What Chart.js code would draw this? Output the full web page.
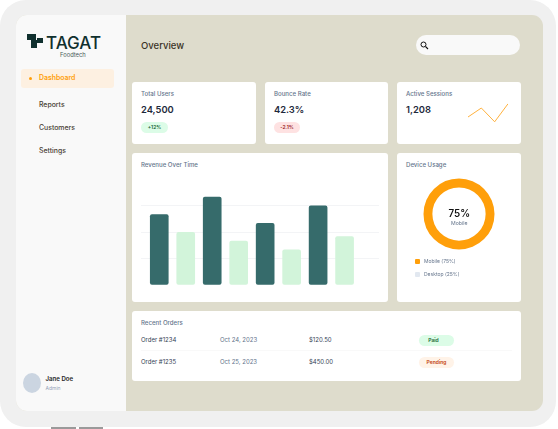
<!DOCTYPE html>
<html lang="en">
<head>
<meta charset="UTF-8">
<title>Overview</title>
<script src="https://cdn.jsdelivr.net/npm/chart.js"></script>
<style>
    html, body { margin: 0; padding: 0; background: #fff; }
    body { width: 558px; height: 429px; position: relative; overflow: hidden; font-family: Inter, sans-serif; color: #1e293b; }
    #page { position: absolute; left: 0; top: 0; width: 558px; height: 429px; filter: blur(0.3px); }
    .abs, .card, .t { position: absolute; }
    .t { white-space: nowrap; line-height: 1; }
    .card { background: #fff; border-radius: 3px; }
    .label { font-size: 6.1px; font-weight: 500; color: #64748b; }
    .big { font-size: 9.4px; font-weight: 600; color: #1e293b; }
    .nav { font-size: 6.9px; font-weight: 500; color: #4a3f35; }
    .pill { position: absolute; border-radius: 6px; font-size: 5px; font-weight: 600; text-align: center; }
    .row { font-size: 6px; color: #334155; }
    .date { font-size: 6px; color: #64748b; }
    canvas { display: block; }
</style>
</head>
<body>
<div id="page">
    <div class="abs" style="left:0;top:0;width:556px;height:427px;background:#f0f0f0;border-radius:26px"></div>
    <div class="abs" style="left:51px;top:427px;width:25px;height:2px;background:#9a9a9a"></div>
    <div class="abs" style="left:79px;top:427px;width:24px;height:2px;background:#9a9a9a"></div>

    <div class="abs" style="left:16px;top:15px;width:527px;height:396px;background:#dedccc;border-radius:11px"></div>
    <div class="abs" style="left:16px;top:15px;width:110px;height:396px;background:#f9f9f9;border-radius:11px 0 0 11px"></div>

    <!-- logo -->
    <div class="abs" style="left:27px;top:34px;width:9px;height:6px;background:#10302e"></div>
    <div class="abs" style="left:31px;top:40px;width:6px;height:8px;background:#10302e"></div>
    <div class="abs" style="left:37px;top:38px;width:6px;height:5px;background:#10302e"></div>
    <div class="t" style="left:46px;top:36px;font-size:17px;line-height:14px;font-weight:500;color:#10302e">TAGAT</div>
    <div class="t" style="left:60px;top:51.5px;font-size:5.8px;color:#4b5a58">Foodtech</div>

    <!-- sidebar -->
    <div class="abs" style="left:21px;top:69px;width:93px;height:19px;background:#fdf0e1;border-radius:3px"></div>
    <div class="abs" style="left:29px;top:77px;width:3px;height:3px;background:#ff9f0a;border-radius:50%"></div>
    <div class="t nav" style="left:39px;top:75px;color:#ff9f0a;font-weight:600">Dashboard</div>
    <div class="t nav" style="left:39px;top:102px">Reports</div>
    <div class="t nav" style="left:39px;top:125px">Customers</div>
    <div class="t nav" style="left:39px;top:147.5px">Settings</div>
    <div class="abs" style="left:23px;top:373px;width:18px;height:20px;background:#cbd5e1;border-radius:50%"></div>
    <div class="t" style="left:45.5px;top:375.5px;font-size:6.1px;font-weight:600;color:#1e1e1e">Jane Doe</div>
    <div class="t" style="left:45.5px;top:386px;font-size:5px;color:#94a3b8">Admin</div>

    <!-- header -->
    <div class="t" style="left:141px;top:40.5px;font-size:9.5px;font-weight:500;color:#3a3226">Overview</div>
    <div class="abs" style="left:416px;top:35px;width:104px;height:20px;background:#f9f9f9;border-radius:10px"></div>
    <svg class="abs" style="left:420px;top:41px" width="9" height="9" viewBox="0 0 9 9"><circle cx="3.5" cy="3.5" r="2.5" fill="none" stroke="#111" stroke-width="1"/><line x1="5.5" y1="5.5" x2="8" y2="8" stroke="#111" stroke-width="1.1"/></svg>

    <!-- stat cards -->
    <div class="card" style="left:132px;top:82px;width:124px;height:62px"></div>
    <div class="t label" style="left:141px;top:90.5px">Total Users</div>
    <div class="t big" style="left:141px;top:105px">24,500</div>
    <div class="pill" style="left:141px;top:122px;width:27px;height:11px;line-height:11px;background:#dcfce7;color:#166534">+12%</div>

    <div class="card" style="left:265px;top:82px;width:123px;height:62px"></div>
    <div class="t label" style="left:274px;top:90.5px">Bounce Rate</div>
    <div class="t big" style="left:274px;top:105px">42.3%</div>
    <div class="pill" style="left:274px;top:122px;width:26px;height:11px;line-height:11px;background:#fee2e2;color:#991b1b">-2.1%</div>

    <div class="card" style="left:397px;top:82px;width:124px;height:62px"></div>
    <div class="t label" style="left:406px;top:90.5px">Active Sessions</div>
    <div class="t big" style="left:406px;top:105px">1,208</div>
    <div class="abs" style="left:468px;top:99px;width:40px;height:42px"><canvas id="sparkChart"></canvas></div>

    <!-- revenue -->
    <div class="card" style="left:132px;top:153px;width:256px;height:149px"></div>
    <div class="t label" style="left:141px;top:161.5px">Revenue Over Time</div>
    <div class="abs" style="left:141px;top:190px;width:238px;height:95px"><canvas id="revenueChart"></canvas></div>

    <!-- device usage -->
    <div class="card" style="left:397px;top:153px;width:124px;height:149px"></div>
    <div class="t label" style="left:406px;top:161.5px">Device Usage</div>
    <div class="abs" style="left:423px;top:178px;width:72px;height:72px"><canvas id="deviceChart"></canvas></div>
    <div class="t" style="left:448.5px;top:208.5px;font-size:9.8px;font-weight:600;color:#111">75%</div>
    <div class="t" style="left:451px;top:221px;font-size:5.2px;color:#64748b">Mobile</div>
    <div class="abs" style="left:415px;top:258.5px;width:5px;height:5px;background:#ff9f0a;border-radius:1px"></div>
    <div class="t" style="left:424px;top:258.5px;font-size:5px;color:#64748b">Mobile (75%)</div>
    <div class="abs" style="left:415px;top:271.5px;width:5px;height:5px;background:#e2e8f0;border-radius:1px"></div>
    <div class="t" style="left:424px;top:271.5px;font-size:5px;color:#64748b">Desktop (25%)</div>

    <!-- orders -->
    <div class="card" style="left:132px;top:311px;width:389px;height:70px"></div>
    <div class="t label" style="left:141px;top:320px">Recent Orders</div>
    <div class="t row" style="left:141px;top:337px">Order #1234</div>
    <div class="t date" style="left:220px;top:337px">Oct 24, 2023</div>
    <div class="t row" style="left:309px;top:337px">$120.50</div>
    <div class="pill" style="left:419px;top:335px;width:29px;padding-right:6px;height:11px;line-height:11px;background:#dcfce7;color:#166534">Paid</div>
    <div class="abs" style="left:141px;top:350px;width:371px;height:1px;background:#f9f9f9"></div>
    <div class="t row" style="left:141px;top:359px">Order #1235</div>
    <div class="t date" style="left:220px;top:359px">Oct 25, 2023</div>
    <div class="t row" style="left:309px;top:359px">$450.00</div>
    <div class="pill" style="left:419px;top:357px;width:35px;height:11px;line-height:11px;background:#fff3e8;color:#c2410c">Pending</div>
</div>

<script>
    // Chart data
    const barPositions = [0, 1, 2, 3, 4, 5, 6, 7];
    const revenueValues = [80, 60, 100, 50, 70, 40, 90, 55];
    const sparkLabels = ['a', 'b', 'c', 'd'];
    const sparkValues = [40, 55, 32, 62];
    const deviceLabels = ['Mobile', 'Desktop'];
    const deviceValues = [75, 25];

    const DARK_BAR = '#366b6b';
    const LIGHT_BAR = '#d2f4da';
    const ORANGE = '#ff9f0a';

    Chart.defaults.animation = false;
    Chart.defaults.responsive = true;
    Chart.defaults.maintainAspectRatio = false;
    Chart.defaults.plugins.legend.display = false;
    Chart.defaults.plugins.tooltip.enabled = false;

    new Chart(document.getElementById('revenueChart'), {
        type: 'bar',
        data: {
            datasets: [{
                data: barPositions.map((x, i) => ({ x: x, y: revenueValues[i] })),
                backgroundColor: barPositions.map(i => i % 2 === 0 ? DARK_BAR : LIGHT_BAR),
                borderRadius: 2,
                borderSkipped: false,
                barThickness: 18
            }]
        },
        options: {
            layout: { padding: 0 },
            scales: {
                x: {
                    type: 'linear',
                    offset: false,
                    min: -0.69,
                    max: 8.3,
                    display: false
                },
                y: {
                    min: 0,
                    max: 108,
                    ticks: { display: false, stepSize: 30, includeBounds: false },
                    border: { display: false },
                    grid: { color: '#f3f4f6', lineWidth: 1, drawTicks: false }
                }
            }
        }
    });

    // The ring is solid orange in the reference, so both slices share the colour
    new Chart(document.getElementById('deviceChart'), {
        type: 'doughnut',
        data: {
            labels: deviceLabels,
            datasets: [{
                data: deviceValues,
                backgroundColor: [ORANGE, ORANGE],
                borderWidth: 0
            }]
        },
        options: {
            radius: 35.5,
            cutout: 27
        }
    });

    new Chart(document.getElementById('sparkChart'), {
        type: 'line',
        data: {
            labels: sparkLabels,
            datasets: [{
                data: sparkValues,
                borderColor: '#ffb13d',
                borderWidth: 1,
                pointRadius: 0,
                tension: 0,
                clip: false
            }]
        },
        options: {
            scales: {
                x: { display: false, offset: false },
                y: { display: false, min: 0, max: 70 }
            }
        }
    });
</script>
</body>
</html>
